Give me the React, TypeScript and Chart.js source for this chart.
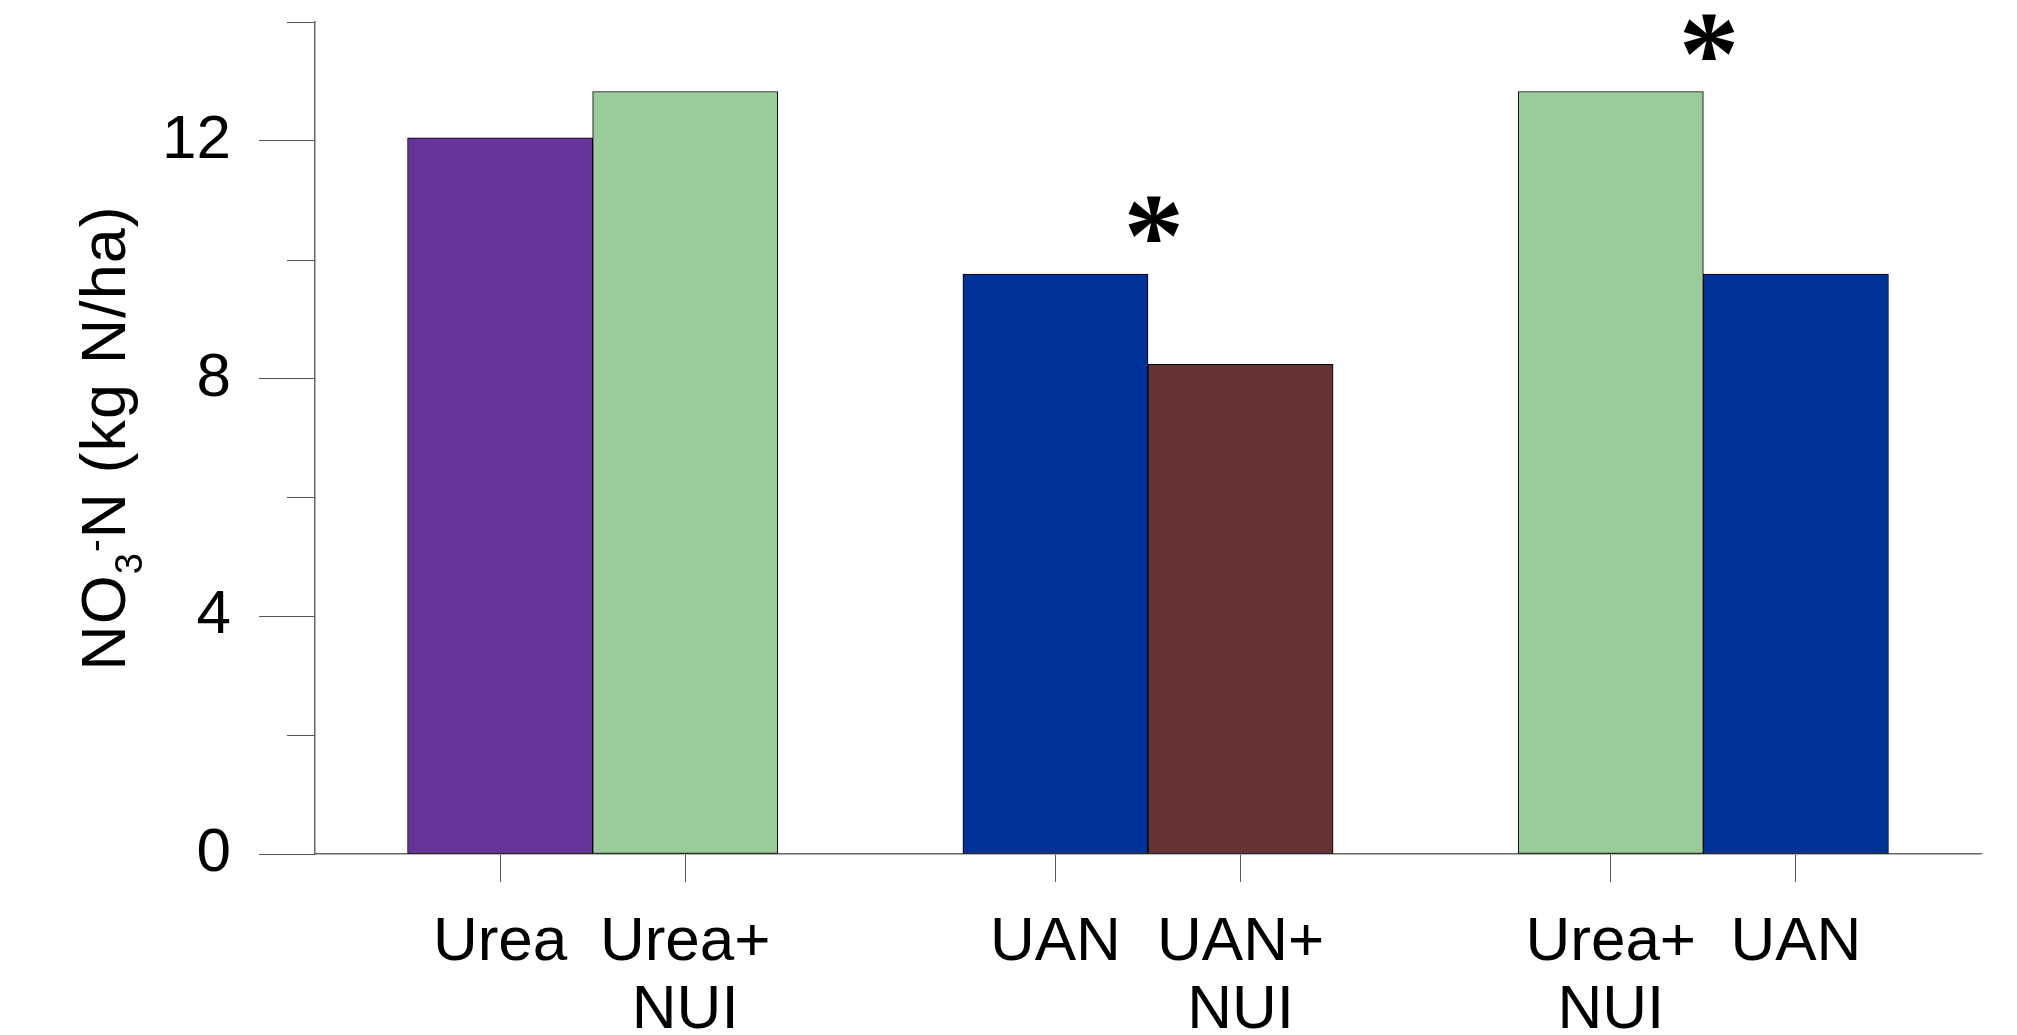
import React, { useEffect, useRef } from 'react';
import { Chart, registerables } from 'chart.js';

Chart.register(...registerables);

// ---- data ----
const categories: string[][] = [
  ['Urea'],
  ['Urea+', 'NUI'],
  ['UAN'],
  ['UAN+', 'NUI'],
  ['Urea+', 'NUI'],
  ['UAN'],
];
const values: number[] = [12.05, 12.83, 9.76, 8.24, 12.83, 9.76];
const groupOf: number[] = [0, 0, 1, 1, 2, 2];
const barColors: string[] = ['#663399', '#99CC99', '#003399', '#663333', '#99CC99', '#003399'];
const significant: boolean[] = [false, true, true];
const yMajorTicks: number[] = [0, 4, 8, 12];
const yMinorTicks: number[] = [2, 6, 10, 14];
const yMin = 0;
const yMax = 14;
const yTitleParts = { main: 'NO', sub: '3', sup: '-', rest: 'N (kg N/ha)' };

const FONT = "'Liberation Sans', Arial, Helvetica, sans-serif";
const STAR_FONT = "'Liberation Serif', 'Times New Roman', serif";
const AXIS_COLOR = '#666666';
const TICK_COLOR = '#555555';

// slot positions: each group takes 3 slots (2 bars + 1 gap)
const positions: number[] = (() => {
  const counts: Record<number, number> = {};
  return groupOf.map((g) => {
    const k = counts[g] || 0;
    counts[g] = k + 1;
    return g * 3 + 1 + k;
  });
})();
const xMax = (Math.max(...groupOf) + 1) * 3;

const extrasPlugin = {
  id: 'extras',
  afterDraw(chart: any) {
    const { ctx, chartArea, scales } = chart;
    const xs = scales.x;
    const ys = scales.y;

    // minor y ticks
    ctx.save();
    ctx.strokeStyle = TICK_COLOR;
    ctx.lineWidth = 1;
    yMinorTicks.forEach((v) => {
      const y = Math.round(ys.getPixelForValue(v)) + 0.5;
      ctx.beginPath();
      ctx.moveTo(chartArea.left - 28, y);
      ctx.lineTo(chartArea.left, y);
      ctx.stroke();
    });
    ctx.restore();

    // significance asterisks
    ctx.save();
    ctx.fillStyle = '#000';
    ctx.font = `bold 100px ${STAR_FONT}`;
    const m = ctx.measureText('*');
    const h100 = m.actualBoundingBoxAscent + m.actualBoundingBoxDescent;
    const size = (46 / h100) * 100;
    ctx.font = `bold ${size}px ${STAR_FONT}`;
    const mm = ctx.measureText('*');
    significant.forEach((sig, g) => {
      if (!sig) return;
      const idx = groupOf.map((gg, i) => (gg === g ? i : -1)).filter((i) => i >= 0);
      const mid = idx.reduce((s, i) => s + positions[i], 0) / idx.length;
      const top = Math.max(...idx.map((i) => values[i]));
      const cx = xs.getPixelForValue(mid) + 6;
      const cy = ys.getPixelForValue(top) - 55;
      const inkW = mm.actualBoundingBoxRight + mm.actualBoundingBoxLeft;
      const bx = cx - inkW / 2 + mm.actualBoundingBoxLeft;
      const by = cy + (mm.actualBoundingBoxAscent - mm.actualBoundingBoxDescent) / 2;
      ctx.textAlign = 'left';
      ctx.textBaseline = 'alphabetic';
      ctx.fillText('*', bx, by);
    });
    ctx.restore();

    // y axis title with subscript / superscript
    ctx.save();
    const big = `63px ${FONT}`;
    const small = `38px ${FONT}`;
    (ctx as any).letterSpacing = '1px';
    ctx.font = big;
    const w1 = ctx.measureText(yTitleParts.main).width;
    const w4 = ctx.measureText(yTitleParts.rest).width;
    ctx.font = small;
    const w2 = ctx.measureText(yTitleParts.sub).width;
    const w3 = ctx.measureText(yTitleParts.sup).width;
    const total = w1 + w2 + w3 + w4;
    const cy = (chartArea.top + chartArea.bottom) / 2;
    ctx.translate(125, cy);
    ctx.rotate(-Math.PI / 2);
    ctx.fillStyle = '#000';
    ctx.textAlign = 'left';
    ctx.textBaseline = 'alphabetic';
    let x = -total / 2;
    ctx.font = big;
    ctx.fillText(yTitleParts.main, x, 0);
    x += w1;
    ctx.font = small;
    ctx.fillText(yTitleParts.sub, x, 17);
    x += w2;
    ctx.fillText(yTitleParts.sup, x, -17);
    x += w3;
    ctx.font = big;
    ctx.fillText(yTitleParts.rest, x, 0);
    ctx.restore();
  },
};

export default function App() {
  const canvasRef = useRef<HTMLCanvasElement | null>(null);

  useEffect(() => {
    const canvas = canvasRef.current;
    if (!canvas) return;
    const chart = new Chart(canvas, {
      type: 'bar',
      data: {
        datasets: [
          {
            data: values.map((v, i) => ({ x: positions[i], y: v })),
            backgroundColor: barColors,
            borderColor: '#000000',
            borderWidth: 1,
            borderSkipped: false,
            categoryPercentage: 1,
            barPercentage: 1,
          } as any,
        ],
      },
      options: {
        animation: false,
        responsive: false,
        maintainAspectRatio: false,
        devicePixelRatio: 1,
        layout: { padding: { top: 22, right: 36, left: 0, bottom: 0 } },
        plugins: {
          legend: { display: false },
          tooltip: { enabled: false },
          title: { display: false },
        },
        scales: {
          x: {
            type: 'linear',
            offset: false,
            min: 0,
            max: xMax,
            afterBuildTicks: (s: any) => {
              s.ticks = positions.map((p) => ({ value: p }));
            },
            afterFit: (s: any) => {
              s.height = 181;
              s.paddingLeft = 0;
              s.paddingRight = 0;
            },
            ticks: {
              autoSkip: false,
              maxRotation: 0,
              minRotation: 0,
              padding: 27,
              color: '#000',
              font: { family: FONT, size: 62, lineHeight: 1.1 },
              callback: (v: any) => {
                const i = positions.indexOf(Number(v));
                return i >= 0 ? categories[i] : [];
              },
            },
            grid: {
              offset: false,
              drawOnChartArea: false,
              drawTicks: true,
              tickLength: 28,
              tickColor: TICK_COLOR,
              tickWidth: 1,
            },
            border: { display: true, color: AXIS_COLOR, width: 1.5 },
          },
          y: {
            type: 'linear',
            min: yMin,
            max: yMax,
            afterBuildTicks: (s: any) => {
              s.ticks = yMajorTicks.map((v) => ({ value: v }));
            },
            afterFit: (s: any) => {
              s.width = 315;
              s.paddingTop = 0;
              s.paddingBottom = 0;
            },
            ticks: {
              padding: 28,
              color: '#000',
              font: { family: FONT, size: 62, lineHeight: 1.1 },
              callback: (v: any) => String(v),
            },
            grid: {
              drawOnChartArea: false,
              drawTicks: true,
              tickLength: 56,
              tickColor: TICK_COLOR,
              tickWidth: 1,
            },
            border: { display: true, color: AXIS_COLOR, width: 1.5 },
          },
        },
      } as any,
      plugins: [extrasPlugin],
    });
    return () => chart.destroy();
  }, []);

  return (
    <div style={{ position: 'fixed', left: 0, top: 0, width: 2017, height: 1035, background: '#fff' }}>
      <canvas ref={canvasRef} width={2017} height={1035} style={{ display: 'block', width: 2017, height: 1035 }} />
    </div>
  );
}
